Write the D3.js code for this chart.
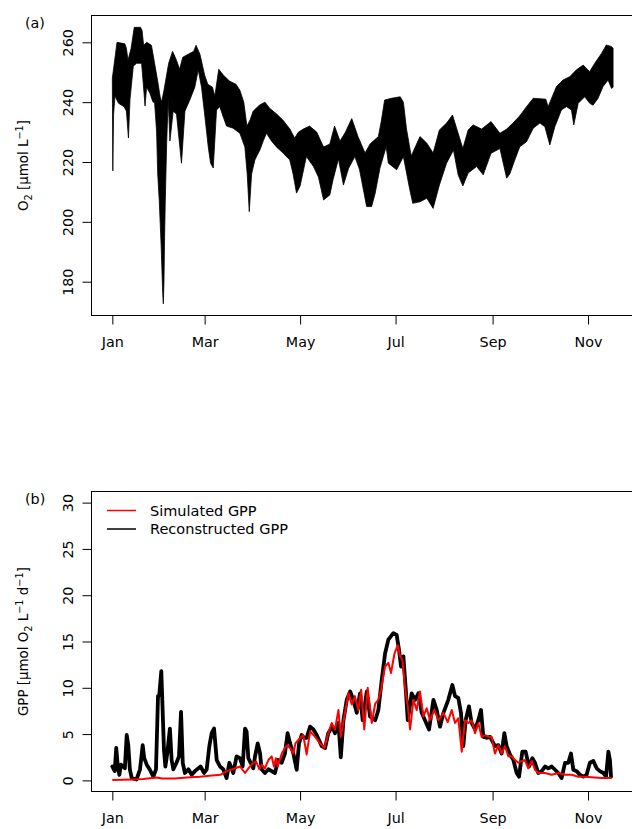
<!DOCTYPE html>
<html>
<head>
<meta charset="utf-8">
<script src="https://cdn.jsdelivr.net/npm/d3@7"></script>
<style>
  body { margin: 0; background: #fff; }
  svg { display: block; }
  text { font-family: "DejaVu Sans", sans-serif; fill: #000; }
</style>
</head>
<body>
<svg id="chart" width="632" height="829"></svg>
<script>
// ---- axis ticks (day of year) ----
const monthTicks = [0, 59, 120, 181, 243, 304];
const monthLabels = ["Jan", "Mar", "May", "Jul", "Sep", "Nov"];
const o2Ticks = [180, 200, 220, 240, 260];
const gppTicks = [0, 5, 10, 15, 20, 25, 30];

// ---- (a) dissolved O2: daily upper / lower envelope of the diel cycle ----
const o2HighDay = [0, 2, 3, 8, 9, 10, 12, 14, 18, 19, 20, 22, 25, 27, 29, 30.5, 31.5, 33, 34, 36, 38.5, 41, 43, 45, 48.5, 52, 53.5, 56, 59, 61, 64, 65.5, 68, 71, 75, 79, 81.5, 84, 86, 88, 90, 94, 97.5, 100.5, 105, 109, 113.5, 116.5, 119, 122, 126, 130.6, 135, 139, 142, 145.5, 149, 153, 157, 161.5, 164.7, 170, 172, 174, 178.5, 184, 186, 188, 191, 196.6, 201, 205, 209, 213.6, 217.4, 221, 224, 227.4, 230.6, 236, 242, 247.7, 252, 256, 260, 264.7, 269, 277, 278.5, 283.8, 288, 292.3, 296.6, 300.9, 305, 308.3, 312.6, 315.7, 318.9, 320];
const o2High = [248, 256, 260, 259.5, 258, 254, 258, 265, 265, 264, 259, 260, 259, 253, 247, 242, 240, 244, 247, 253, 257, 254, 251, 255, 256, 257, 259, 256, 249, 246, 245, 242, 251, 249, 247, 246, 244, 240, 232, 234, 237, 239, 240, 238, 236, 234, 231, 228, 230, 231, 232, 230, 225, 226, 232, 227, 230, 234.5, 228.5, 223, 226, 228.5, 234, 240.7, 241.3, 241.8, 240, 231, 222, 228.5, 226.3, 223, 230.7, 233, 235.7, 229.6, 224.5, 230.7, 232.4, 231, 233.5, 229.6, 231, 233, 235.2, 238.5, 241.3, 241, 238.5, 245.2, 247.4, 248.5, 250.8, 252.4, 250.2, 253, 256.3, 259.1, 258.6, 258];
const o2LowDay = [0, 0.3, 0.8, 1.7, 4, 7.5, 9, 10.3, 11.3, 13.4, 15.5, 18.7, 19.8, 20.9, 21.9, 24, 26, 27, 28.3, 29, 30, 31.2, 32.2, 32.6, 33, 33.4, 33.8, 34.7, 35.7, 36.8, 38.9, 41, 44.2, 46.4, 49.5, 52.7, 54.9, 57, 59.2, 61.3, 62.8, 64.5, 66.6, 68.7, 70.9, 73, 77.2, 81.5, 84.7, 86.2, 87.5, 89, 91.1, 94.3, 96.4, 98.5, 101.7, 104.9, 109.1, 113.4, 115.5, 117.7, 120, 124, 128.5, 131.7, 135, 139, 141, 144.5, 147.7, 151, 155, 158, 162.5, 165.7, 168, 171, 175, 176.4, 181.7, 186, 190, 192, 196.6, 201, 205, 209, 213.6, 218, 221, 224, 227.4, 232.8, 237, 242, 247.7, 252, 254, 257.2, 260.4, 264.7, 269, 273.2, 276.4, 279.6, 282.8, 287, 290.2, 293.4, 294.9, 297.7, 301.9, 305.1, 307.2, 310.4, 313.6, 316.8, 319, 320];
const o2Low = [248, 217, 236, 242, 239.6, 238.5, 237, 228, 241, 252, 253, 253, 246, 238.7, 245, 243, 240, 240, 230, 216, 207, 192, 176, 172.6, 180, 195, 206, 226, 241, 227, 237, 236, 219.6, 237, 240.7, 245, 250.8, 245, 235, 225, 219.6, 218, 237.4, 238.5, 235, 232, 231.3, 229.6, 225, 216, 203.4, 216, 220.7, 224, 227, 229.6, 227, 225, 223, 220.7, 216, 209.6, 212, 221.8, 218.5, 215, 207.3, 209, 214, 221, 212.3, 217.9, 221.8, 217.4, 205.1, 205.1, 209.6, 217.9, 225.1, 219.6, 217.4, 221.8, 211, 206.2, 206.7, 207.9, 204.5, 212.3, 219.6, 224, 215.7, 212, 216.3, 218.5, 215.7, 222.9, 224.5, 214.6, 216, 220.7, 225.1, 226.8, 231.3, 233, 231.8, 225.7, 231.8, 237.4, 238.5, 237.4, 232.4, 239.6, 241.8, 239.6, 239, 241.3, 245.2, 247.4, 244.6, 245];

// ---- (b) GPP, simulated and reconstructed ----
const simDay = [0, 13, 20, 28, 32, 40, 47.5, 56, 62, 69, 73, 77, 81.6, 84.8, 87, 90, 92, 94, 95.5, 97.5, 99.7, 101.8, 103.3, 104.5, 105.7, 108.3, 110.3, 111.8, 113.6, 115.7, 117, 119, 122, 124.2, 126.4, 129.6, 132.8, 135.5, 138, 140.2, 142.3, 144.5, 146, 148.7, 150.9, 153, 155, 157.2, 159, 161, 163.2, 165.8, 168, 170, 171.7, 174.3, 176.4, 178.1, 180.3, 182.4, 183.9, 185.4, 187, 188.8, 190.3, 192.4, 194.5, 196.6, 198.8, 200.9, 203, 205.8, 208.4, 211.6, 214.3, 216.9, 219, 221.1, 223.3, 225.4, 227.5, 229.6, 231.8, 233.9, 236, 238.2, 240.3, 242.4, 244.5, 246.7, 248.8, 250.9, 253.1, 255.2, 257.3, 259.5, 261.6, 263.7, 265.8, 268, 270.1, 272.2, 276.5, 280.8, 285, 289.3, 293.5, 297.8, 302, 306.3, 312.7, 319];
const simGpp = [0.05, 0.1, 0.15, 0.3, 0.2, 0.2, 0.3, 0.4, 0.5, 0.6, 1.0, 1.2, 1.5, 0.8, 1.3, 1.9, 2.0, 1.2, 1.7, 1.3, 2.2, 2.6, 1.5, 2.4, 1.5, 2.9, 3.5, 3.8, 3.5, 2.9, 4.0, 4.4, 4.9, 2.8, 5.3, 4.7, 4.0, 3.5, 5.1, 6.2, 5.5, 7.6, 4.7, 7.3, 9.4, 8.2, 9.1, 7.6, 9.8, 5.5, 10.0, 6.2, 8.3, 8.7, 9.8, 12.3, 12.7, 11.6, 13.7, 14.6, 13.4, 13.0, 10.1, 8.0, 5.5, 8.7, 7.6, 9.6, 6.9, 7.8, 6.5, 7.6, 6.5, 7.3, 6.3, 7.6, 6.2, 6.7, 3.1, 6.5, 6.2, 6.5, 5.1, 6.2, 4.7, 4.9, 4.7, 4.7, 2.9, 3.8, 2.9, 3.7, 2.6, 2.6, 2.2, 1.9, 2.1, 2.2, 1.3, 2.1, 1.15, 0.8, 0.8, 0.6, 0.8, 0.6, 0.6, 0.4, 0.4, 0.35, 0.25, 0.25];
const recDay = [0, 1.5, 2.5, 3.5, 4.5, 5.5, 7, 8, 9.2, 10.2, 11.2, 12.4, 15.5, 17.7, 19.4, 20.4, 22, 24, 26.2, 27.9, 29.2, 30, 31.3, 32.2, 33, 33.9, 35.1, 36.8, 37.9, 39, 41, 42.6, 43.9, 45, 46.4, 48.6, 50.7, 52.8, 55, 56.4, 58.6, 60.3, 62, 63.5, 65, 66.7, 68.8, 70.9, 73, 74.8, 77.3, 79.4, 81.6, 83.3, 84.8, 85.8, 86.9, 88.4, 90.1, 91.2, 92.9, 94.4, 95.4, 97.5, 99.7, 101.8, 103.9, 106, 108.2, 110.3, 112, 113.6, 115.7, 117.8, 119.3, 121, 122.5, 124.2, 126.4, 128.5, 130.6, 133.8, 136, 138, 140.6, 142.3, 144.5, 146, 147.7, 149.8, 152, 154, 156.2, 158.3, 160, 162.6, 164.7, 168, 170, 172.2, 174.3, 176.4, 179.6, 181.7, 183.2, 184.5, 186, 187.7, 188.8, 191.3, 193.5, 195.6, 197.7, 199.8, 202.4, 205.2, 207.3, 209.4, 211.6, 214.7, 217.3, 219, 221.1, 222.8, 224.3, 225.8, 227.9, 229.6, 231.8, 233.9, 235.6, 237.1, 239.2, 241.4, 244.5, 246.7, 248.8, 250.5, 252, 254.1, 256.3, 258.4, 259.9, 262, 264.1, 266.3, 268.4, 270.1, 272.2, 274.4, 276.5, 278.6, 280.8, 282.9, 285, 287.1, 289.3, 291.4, 293.1, 294.6, 296.7, 298.9, 301, 303.1, 305.2, 307.4, 309.5, 311.6, 313.8, 315.5, 317, 318, 318.7];
const recGpp = [1.5, 1.0, 3.5, 1.5, 0.6, 1.7, 1.5, 1.3, 4.9, 3.8, 1.2, 0.25, 0.1, 1.2, 3.8, 2.4, 1.7, 1.15, 0.4, 1.2, 9.1, 9.2, 11.8, 7.3, 3.3, 1.5, 2.9, 5.6, 2.2, 1.2, 1.9, 2.6, 7.4, 1.9, 0.8, 1.2, 0.6, 1.0, 1.3, 1.5, 0.8, 1.2, 3.7, 5.1, 5.6, 2.2, 1.5, 1.2, 0.25, 1.9, 0.8, 2.6, 2.4, 1.5, 5.6, 5.3, 2.4, 1.9, 1.3, 2.6, 4.0, 2.9, 1.2, 0.8, 1.2, 1.0, 0.8, 2.2, 1.9, 2.9, 5.1, 4.0, 2.9, 1.15, 4.0, 4.9, 4.6, 4.6, 5.8, 5.5, 4.9, 3.7, 3.5, 5.1, 5.8, 5.1, 6.2, 2.5, 6.5, 8.7, 9.6, 8.7, 7.3, 9.4, 6.5, 9.6, 6.9, 6.5, 7.6, 10.9, 13.7, 15.2, 15.9, 15.7, 14.1, 12.3, 13.4, 9.4, 6.5, 9.4, 8.7, 9.4, 7.3, 6.5, 5.5, 8.7, 7.6, 5.8, 7.3, 8.7, 10.3, 9.1, 8.9, 7.3, 3.7, 6.5, 8.0, 6.2, 5.5, 6.5, 7.6, 4.7, 4.6, 4.7, 3.7, 3.8, 2.9, 5.1, 3.7, 2.8, 2.2, 0.8, 0.4, 3.1, 3.1, 1.5, 2.4, 1.9, 0.8, 1.0, 1.5, 1.3, 1.5, 1.15, 0.8, 0.25, 1.9, 1.9, 2.9, 1.15, 1.0, 0.6, 0.4, 0.6, 1.9, 2.1, 1.3, 1.0, 0.8, 0.4, 3.1, 2.2, 0.4];

// ---- scales ----
const svg = d3.select("#chart");
const x = d3.scaleLinear().domain([-12.8, 332.8]).range([92.3, 633.1]);
const yA = d3.scaleLinear().domain([168.7, 268.96]).range([315.5, 15.5]);
const yB = d3.scaleLinear().domain([-1.2, 31.2]).range([791.5, 491.5]);

const TICK_FS = 14.3;   // tick labels and panel tags
const TITLE_FS = 13.4;  // axis titles
const LEGEND_FS = 14.5;

// rich text helper for sub/superscripts
function richText(sel, parts) {
  let shift = 0;
  parts.forEach(p => {
    const target = p.sub ? 3.5 : p.sup ? -5.5 : 0;
    sel.append("tspan")
      .attr("dy", target - shift)
      .attr("font-size", p.sub || p.sup ? 9.8 : TITLE_FS)
      .text(p.t);
    shift = target;
  });
}

function panel(y, top, bottom, ticks, titleParts, tag) {
  const g = svg.append("g");
  const clipId = "clip" + tag.replace(/\W/g, "");
  svg.append("clipPath").attr("id", clipId)
    .append("rect").attr("x", 92).attr("y", top).attr("width", 560).attr("height", bottom - top);

  // plot frame
  g.append("rect")
    .attr("x", 91.5).attr("y", top)
    .attr("width", 560).attr("height", bottom - top)
    .attr("fill", "none").attr("stroke", "#000").attr("stroke-width", 1);

  // x axis
  const xa = g.append("g").attr("transform", `translate(0,${bottom})`)
    .call(d3.axisBottom(x).tickValues(monthTicks)
      .tickFormat((d, i) => monthLabels[i]).tickSize(9).tickPadding(12.5));
  xa.select(".domain").remove();
  xa.selectAll("text").attr("font-size", TICK_FS).attr("font-family", "DejaVu Sans");
  xa.selectAll("line").attr("stroke", "#000");

  // y axis with labels parallel to the axis
  const ya = g.append("g").attr("transform", "translate(91.5,0)")
    .call(d3.axisLeft(y).tickValues(ticks).tickSize(9));
  ya.select(".domain").remove();
  ya.selectAll("line").attr("stroke", "#000");
  ya.selectAll("text")
    .attr("font-size", TICK_FS).attr("font-family", "DejaVu Sans")
    .attr("transform", "rotate(-90)")
    .attr("x", 0).attr("y", -18.5).attr("dy", 0)
    .attr("text-anchor", "middle");

  // axis title
  const t = g.append("text")
    .attr("transform", `translate(28,${(top + bottom) / 2}) rotate(-90)`)
    .attr("text-anchor", "middle").attr("font-size", TITLE_FS);
  richText(t, titleParts);

  // panel tag
  g.append("text").attr("x", 25).attr("y", top + 12.5).attr("font-size", TICK_FS).text(tag);

  return svg.append("g").attr("clip-path", `url(#${clipId})`);
}

// ---- panel (a) ----
const plotA = panel(yA, 15.5, 315.5, o2Ticks,
  [{t: "O"}, {t: "2", sub: true}, {t: " [μmol L"}, {t: "−1", sup: true}, {t: "]"}], "(a)");

const bandPts = o2HighDay.map((d, i) => [x(d), yA(o2High[i])])
  .concat(o2LowDay.map((d, i) => [x(d), yA(o2Low[i])]).reverse());
plotA.append("path")
  .attr("d", d3.line()(bandPts) + "Z")
  .attr("fill", "#000")
  .attr("stroke", "#000").attr("stroke-width", 0.8).attr("stroke-linejoin", "round");

// ---- panel (b) ----
const plotB = panel(yB, 491.5, 791.5, gppTicks,
  [{t: "GPP [μmol O"}, {t: "2", sub: true}, {t: " L"}, {t: "−1", sup: true}, {t: " d"}, {t: "−1", sup: true}, {t: "]"}], "(b)");

const gppLine = d3.line().x(d => x(d[0])).y(d => yB(d[1]));
plotB.append("path")
  .attr("d", gppLine(recDay.map((d, i) => [d, recGpp[i]])))
  .attr("fill", "none").attr("stroke", "#000").attr("stroke-width", 3.8)
  .attr("stroke-linejoin", "round").attr("stroke-linecap", "round");
plotB.append("path")
  .attr("d", gppLine(simDay.map((d, i) => [d, simGpp[i]])))
  .attr("fill", "none").attr("stroke", "#ff0000").attr("stroke-width", 2)
  .attr("stroke-linejoin", "round");

// legend
const legendItems = [
  {name: "Simulated GPP", color: "#ff0000"},
  {name: "Reconstructed GPP", color: "#000"}
];
const lg = svg.append("g");
legendItems.forEach((it, i) => {
  const yy = 510.5 + i * 18.5;
  lg.append("line").attr("x1", 107).attr("x2", 136).attr("y1", yy).attr("y2", yy)
    .attr("stroke", it.color).attr("stroke-width", 1.5);
  lg.append("text").attr("x", 150).attr("y", yy + 5.2).attr("font-size", LEGEND_FS).text(it.name);
});
</script>
</body>
</html>
